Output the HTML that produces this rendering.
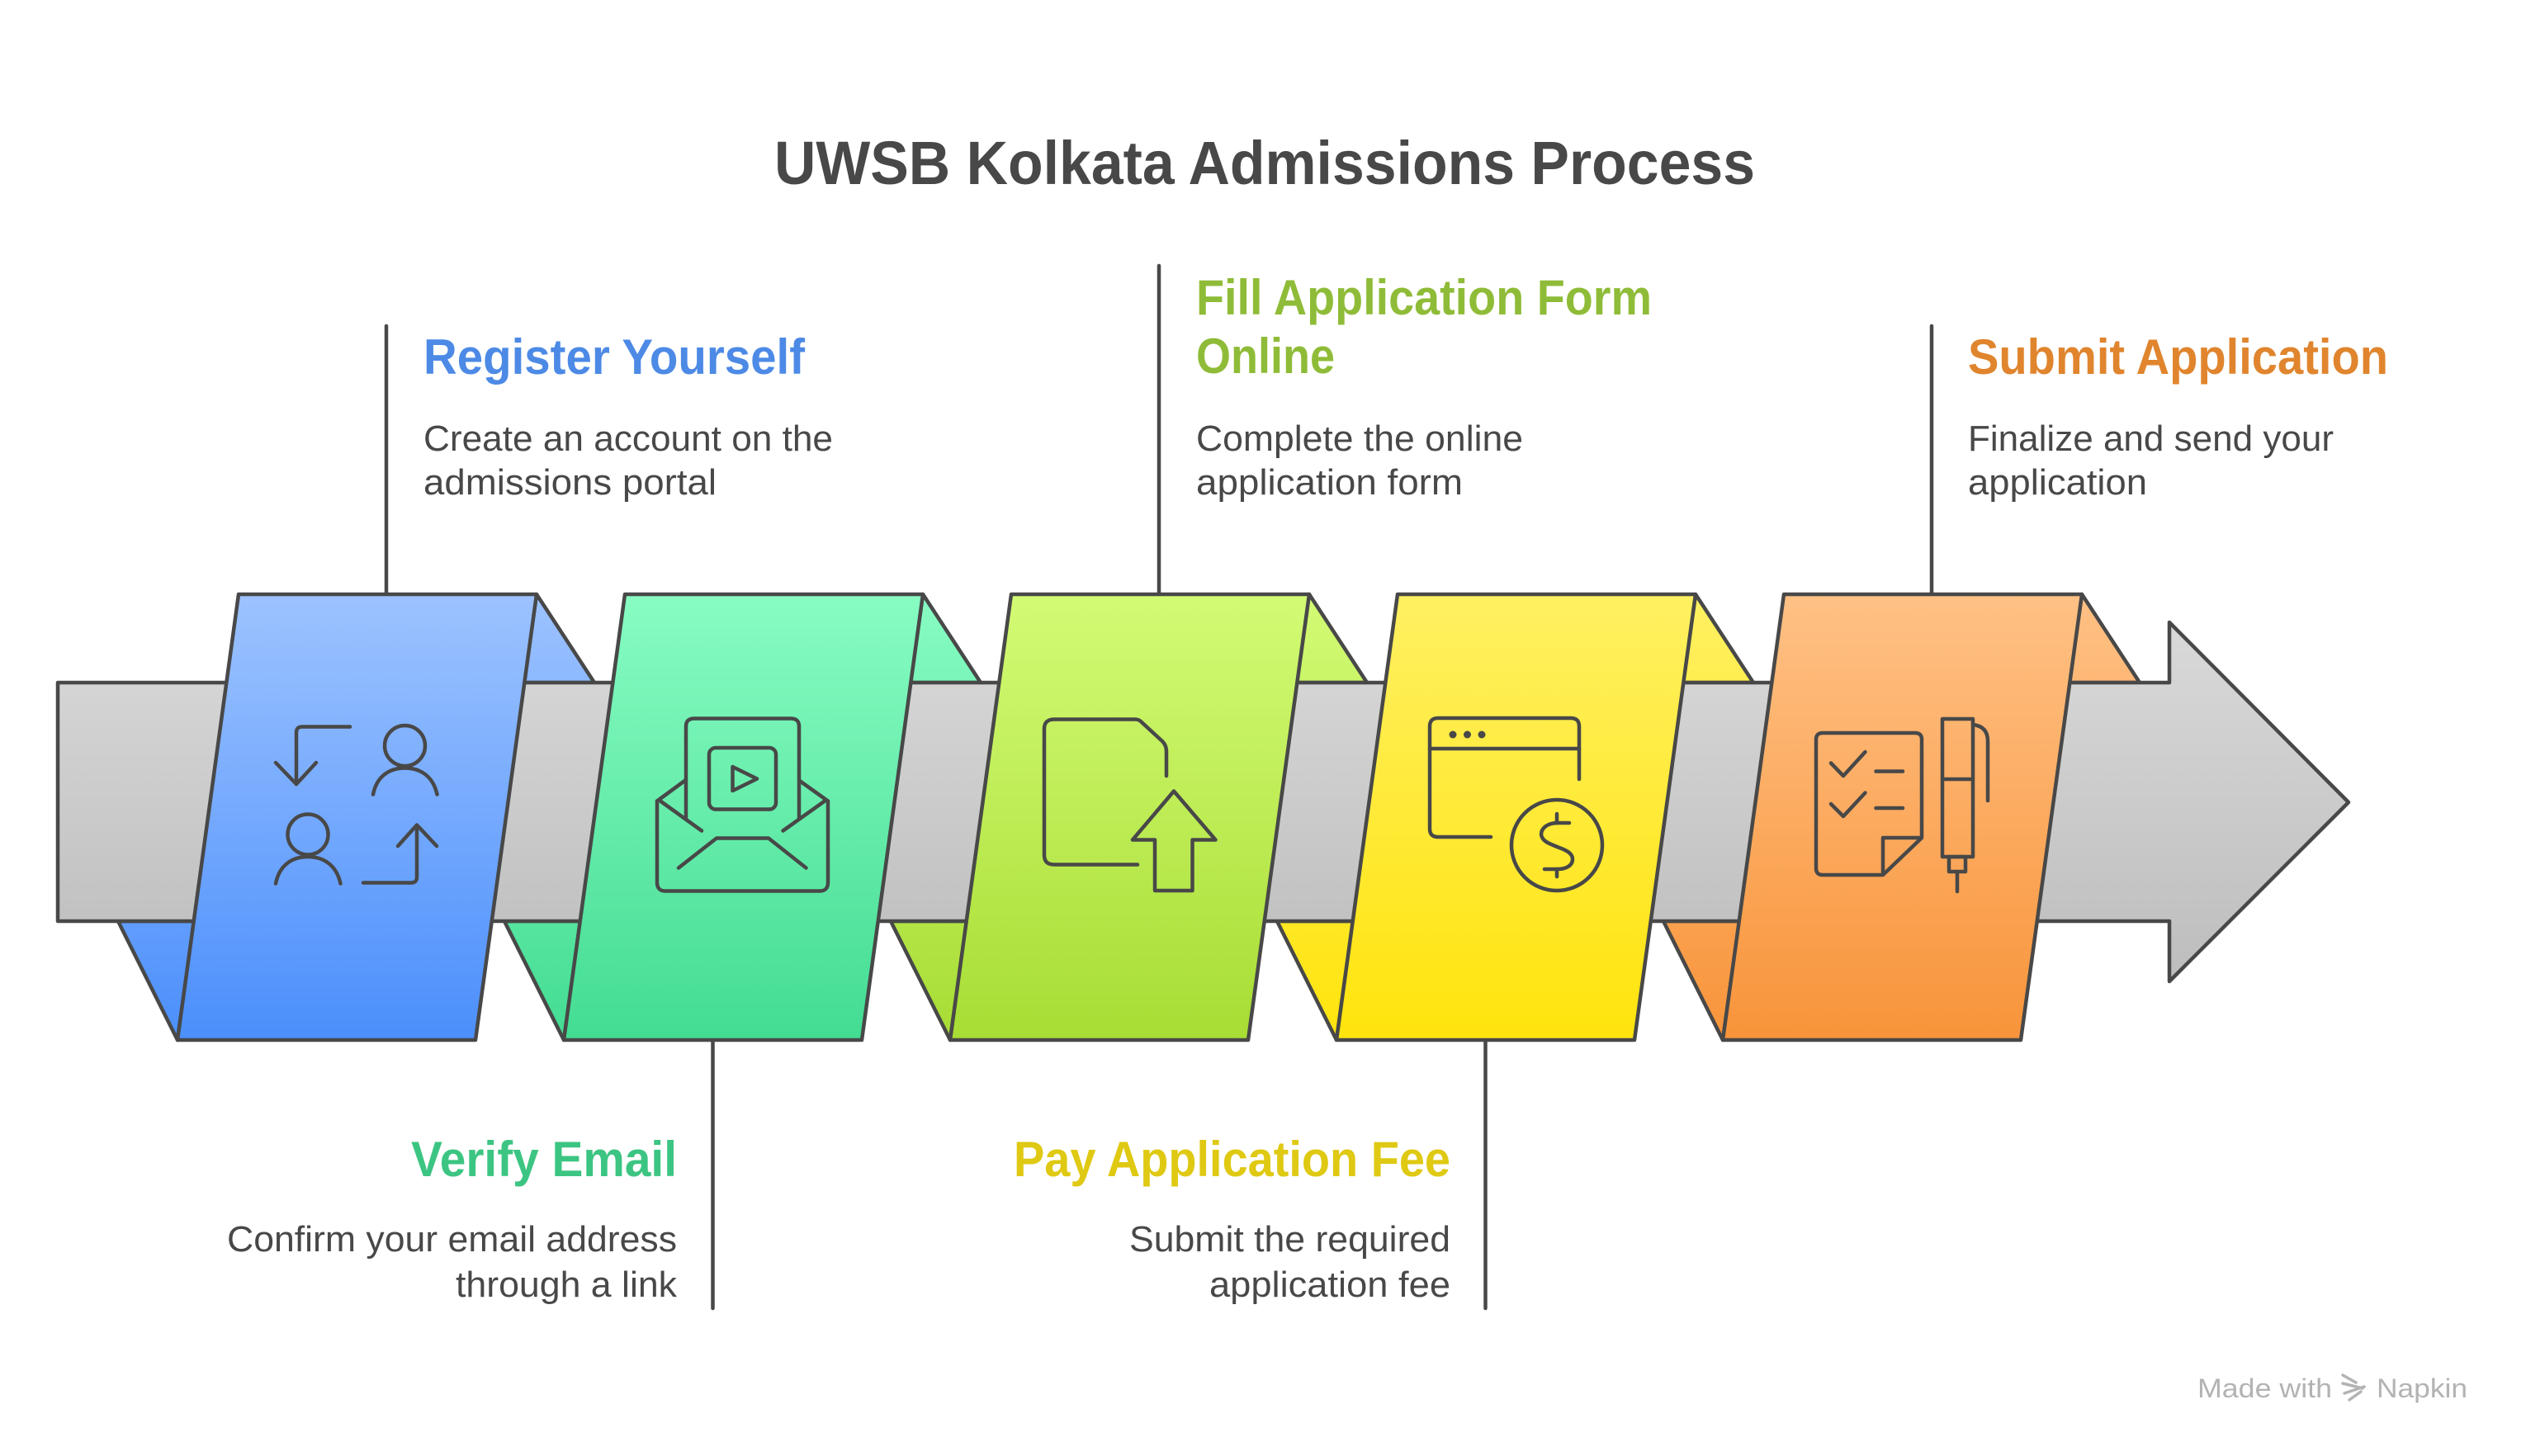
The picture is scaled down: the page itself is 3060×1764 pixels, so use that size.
<!DOCTYPE html>
<html>
<head>
<meta charset="utf-8">
<style>
  html, body { margin: 0; padding: 0; background: #ffffff; }
  body { width: 3060px; height: 1764px; overflow: hidden; }
  svg { display: block; }
  .t  { font-family: "Liberation Sans", Arial, sans-serif; font-weight: bold; }
  .b  { font-family: "Liberation Sans", Arial, sans-serif; font-weight: normal; fill: #484848; }
</style>
</head>
<body>
<svg width="3060" height="1764" viewBox="0 0 3060 1764" xmlns="http://www.w3.org/2000/svg">
  <defs>
    <linearGradient id="gBand" x1="0" y1="754" x2="0" y2="1189" gradientUnits="userSpaceOnUse">
      <stop offset="0" stop-color="#d9d9d9"/>
      <stop offset="1" stop-color="#bdbdbd"/>
    </linearGradient>
    <linearGradient id="gBlue" x1="0" y1="720" x2="0" y2="1260" gradientUnits="userSpaceOnUse">
      <stop offset="0" stop-color="#9dc3ff"/>
      <stop offset="1" stop-color="#4b8ffc"/>
    </linearGradient>
    <linearGradient id="gGreen" x1="0" y1="720" x2="0" y2="1260" gradientUnits="userSpaceOnUse">
      <stop offset="0" stop-color="#88fcc3"/>
      <stop offset="1" stop-color="#43dc92"/>
    </linearGradient>
    <linearGradient id="gLime" x1="0" y1="720" x2="0" y2="1260" gradientUnits="userSpaceOnUse">
      <stop offset="0" stop-color="#d3fb75"/>
      <stop offset="1" stop-color="#a7dd34"/>
    </linearGradient>
    <linearGradient id="gYellow" x1="0" y1="720" x2="0" y2="1260" gradientUnits="userSpaceOnUse">
      <stop offset="0" stop-color="#fff062"/>
      <stop offset="1" stop-color="#ffe40c"/>
    </linearGradient>
    <linearGradient id="gOrange" x1="0" y1="720" x2="0" y2="1260" gradientUnits="userSpaceOnUse">
      <stop offset="0" stop-color="#ffc185"/>
      <stop offset="1" stop-color="#f8943a"/>
    </linearGradient>
  </defs>

  <!-- Title -->
  <text class="t" x="938" y="223" font-size="74" fill="#484848" textLength="1188" lengthAdjust="spacingAndGlyphs">UWSB Kolkata Admissions Process</text>

  <g stroke="#484848" stroke-width="4.5" stroke-linejoin="round" stroke-linecap="round">
    <!-- connector lines -->
    <line x1="468" y1="395" x2="468" y2="720" fill="none"/>
    <line x1="1404" y1="322" x2="1404" y2="720" fill="none"/>
    <line x1="2340" y1="395" x2="2340" y2="720" fill="none"/>
    <line x1="863.5" y1="1260" x2="863.5" y2="1585" fill="none"/>
    <line x1="1799.5" y1="1260" x2="1799.5" y2="1585" fill="none"/>

    <!-- top flaps (right of each panel) -->
    <polygon points="650,720 720,827 635,827" fill="url(#gBlue)"/>
    <polygon points="1118,720 1188,827 1103,827" fill="url(#gGreen)"/>
    <polygon points="1586,720 1656,827 1571,827" fill="url(#gLime)"/>
    <polygon points="2054,720 2124,827 2039,827" fill="url(#gYellow)"/>
    <polygon points="2522,720 2592,827 2507,827" fill="url(#gOrange)"/>

    <!-- bottom flaps (left of each panel) -->
    <polygon points="143,1116 215,1260 235,1116" fill="url(#gBlue)"/>
    <polygon points="611,1116 683,1260 703,1116" fill="url(#gGreen)"/>
    <polygon points="1079,1116 1151,1260 1171,1116" fill="url(#gLime)"/>
    <polygon points="1547,1116 1619,1260 1639,1116" fill="url(#gYellow)"/>
    <polygon points="2015,1116 2087,1260 2107,1116" fill="url(#gOrange)"/>

    <!-- gray band with arrow head -->
    <polygon points="70,827 2628,827 2628,754 2845,972 2628,1189 2628,1116 70,1116" fill="url(#gBand)"/>

    <!-- panels -->
    <polygon points="289,720 650,720 576,1260 215,1260" fill="url(#gBlue)"/>
    <polygon points="757,720 1118,720 1044,1260 683,1260" fill="url(#gGreen)"/>
    <polygon points="1225,720 1586,720 1512,1260 1151,1260" fill="url(#gLime)"/>
    <polygon points="1693,720 2054,720 1980,1260 1619,1260" fill="url(#gYellow)"/>
    <polygon points="2161,720 2522,720 2448,1260 2087,1260" fill="url(#gOrange)"/>
  </g>

  <!-- Icons -->
  <g stroke="#484848" stroke-width="4.5" stroke-linejoin="round" stroke-linecap="round" fill="none">
    <!-- Blue: user swap -->
    <path d="M424,880.5 H366 Q359,880.5 359,887.5 V950"/>
    <path d="M334,924 L359,950 L383,924"/>
    <circle cx="490.5" cy="903.5" r="24.5"/>
    <path d="M452,962.5 C456,942 470,930.5 490.5,930.5 C511,930.5 525,942 529.5,962.5"/>
    <circle cx="373" cy="1011" r="24.5"/>
    <path d="M334,1070.5 C338,1050 352,1038 373,1038 C394,1038 408,1050 412.5,1070.5"/>
    <path d="M440,1069.5 H498 Q505,1069.5 505,1062.5 V1000"/>
    <path d="M482,1025 L505,999.5 L529,1025"/>

    <!-- Green: envelope with video -->
    <path d="M796,970.5 V1069 Q796,1079.5 806,1079.5 H993 Q1003,1079.5 1003,1069 V970.5"/>
    <path d="M796,970.5 L830,945.5"/>
    <path d="M1003,970.5 L968,945.5"/>
    <path d="M800,970.5 L850,1006.5"/>
    <path d="M999,970.5 L948.5,1006.5"/>
    <path d="M822,1051.5 L868,1015.5 H931 L976.5,1051.5"/>
    <path d="M831,992 V880 Q831,870.5 841,870.5 H958 Q968,870.5 968,880 V992"/>
    <rect x="859" y="906" width="81" height="74.5" rx="8"/>
    <path d="M887.5,929 L917,943.5 L887.5,958 Z"/>

    <!-- Lime: file upload -->
    <path d="M1413,940 V910 Q1413,903 1408,898 L1383,875 Q1380,871.5 1375,871.5 H1277 Q1265,871.5 1265,883 V1036 Q1265,1047.5 1277,1047.5 H1378"/>
    <path d="M1422,958.5 L1372,1017.5 H1399 V1079 H1444.5 V1017.5 H1472.5 Z"/>

    <!-- Yellow: browser payment -->
    <path d="M1913,944 V880 Q1913,870 1903,870 H1742 Q1732,870 1732,880 V1004 Q1732,1014 1742,1014 H1806"/>
    <line x1="1732" y1="907" x2="1913" y2="907"/>
    <circle cx="1886" cy="1024" r="55"/>
    <path d="M1901,997 H1887 C1875,997 1867,1003 1867,1011 C1868,1019 1876,1022 1889,1027 C1900,1031 1905,1035 1905,1041 C1905,1048 1898,1053 1887,1053 H1871"/>
    <line x1="1886" y1="986" x2="1886" y2="997"/>
    <line x1="1886" y1="1053" x2="1886" y2="1062"/>

    <!-- Orange: checklist + pen -->
    <path d="M2281,1060 H2208 Q2200,1060 2200,1052 V896 Q2200,888 2208,888 H2320 Q2328,888 2328,896 V1015 L2281,1060 V1015 H2328"/>
    <path d="M2218,924.5 L2233,940 L2259.5,911"/>
    <line x1="2272.5" y1="934.5" x2="2305" y2="934.5"/>
    <path d="M2218,974 L2233,989 L2259.5,960.5"/>
    <line x1="2272.5" y1="979" x2="2305" y2="979"/>
    <rect x="2353" y="871" width="37" height="167"/>
    <line x1="2353" y1="944" x2="2390" y2="944"/>
    <path d="M2390,878 Q2408,880 2408,898 V970"/>
    <rect x="2361" y="1038" width="20" height="18"/>
    <line x1="2371" y1="1056" x2="2371" y2="1080"/>
  </g>
  <g fill="#484848">
    <circle cx="1760" cy="890" r="4.5"/>
    <circle cx="1777.5" cy="890" r="4.5"/>
    <circle cx="1795" cy="890" r="4.5"/>
  </g>

  <!-- Step texts: top -->
  <text class="t" x="513" y="453" font-size="60" fill="#4d8ae6" textLength="462" lengthAdjust="spacingAndGlyphs">Register Yourself</text>
  <text class="b" x="513" y="546" font-size="44" textLength="496" lengthAdjust="spacingAndGlyphs">Create an account on the</text>
  <text class="b" x="513" y="599" font-size="44" textLength="355" lengthAdjust="spacingAndGlyphs">admissions portal</text>

  <text class="t" x="1449" y="381" font-size="60" fill="#8fbc38" textLength="552" lengthAdjust="spacingAndGlyphs">Fill Application Form</text>
  <text class="t" x="1449" y="452" font-size="60" fill="#8fbc38" textLength="168" lengthAdjust="spacingAndGlyphs">Online</text>
  <text class="b" x="1449" y="546" font-size="44" textLength="396" lengthAdjust="spacingAndGlyphs">Complete the online</text>
  <text class="b" x="1449" y="599" font-size="44" textLength="323" lengthAdjust="spacingAndGlyphs">application form</text>

  <text class="t" x="2384" y="453" font-size="60" fill="#e0852e" textLength="509" lengthAdjust="spacingAndGlyphs">Submit Application</text>
  <text class="b" x="2384" y="546" font-size="44" textLength="443" lengthAdjust="spacingAndGlyphs">Finalize and send your</text>
  <text class="b" x="2384" y="599" font-size="44" textLength="217" lengthAdjust="spacingAndGlyphs">application</text>

  <!-- Step texts: bottom -->
  <text class="t" x="498" y="1425" font-size="60" fill="#3cc582" textLength="322" lengthAdjust="spacingAndGlyphs">Verify Email</text>
  <text class="b" x="275" y="1516" font-size="44" textLength="545" lengthAdjust="spacingAndGlyphs">Confirm your email address</text>
  <text class="b" x="552" y="1571" font-size="44" textLength="268" lengthAdjust="spacingAndGlyphs">through a link</text>

  <text class="t" x="1228" y="1425" font-size="60" fill="#dfc912" textLength="529" lengthAdjust="spacingAndGlyphs">Pay Application Fee</text>
  <text class="b" x="1368" y="1516" font-size="44" textLength="389" lengthAdjust="spacingAndGlyphs">Submit the required</text>
  <text class="b" x="1465" y="1571" font-size="44" textLength="292" lengthAdjust="spacingAndGlyphs">application fee</text>

  <!-- Watermark -->
  <text x="2662" y="1693" font-family="Liberation Sans, Arial, sans-serif" font-size="32" fill="#b3b3b3" textLength="163" lengthAdjust="spacingAndGlyphs">Made with</text>
  <g stroke="#b3b3b3" stroke-width="3.5" stroke-linecap="round" fill="none">
    <path d="M2838,1666 L2854,1675"/>
    <path d="M2838,1676 L2862,1682"/>
    <path d="M2840,1688 L2864,1680"/>
    <path d="M2846,1696 L2860,1686"/>
  </g>
  <text x="2879" y="1693" font-family="Liberation Sans, Arial, sans-serif" font-size="32" fill="#b3b3b3" textLength="110" lengthAdjust="spacingAndGlyphs">Napkin</text>
</svg>
</body>
</html>
